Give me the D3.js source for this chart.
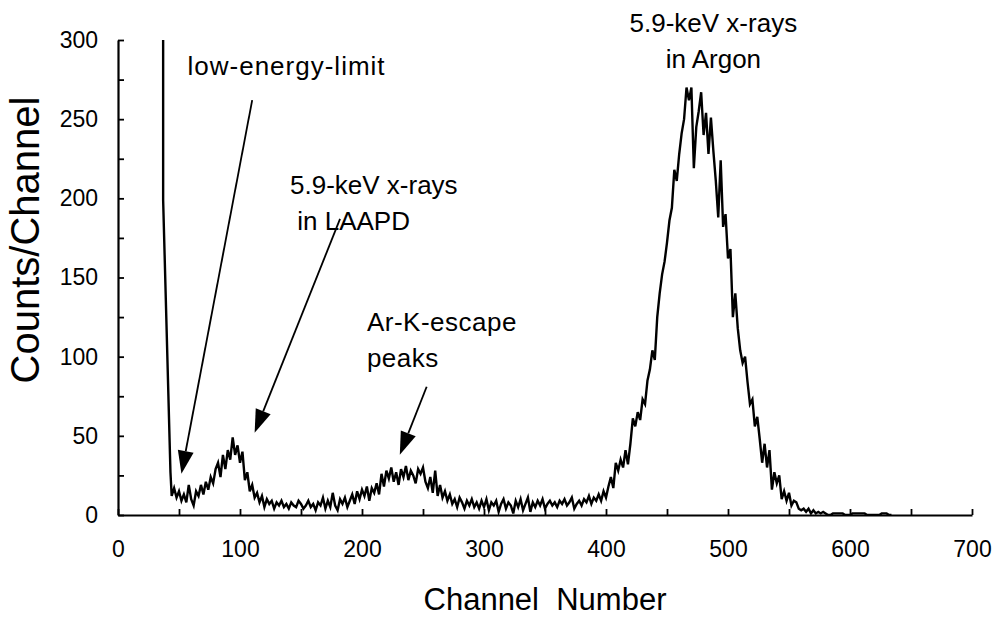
<!DOCTYPE html>
<html>
<head>
<meta charset="utf-8">
<script src="https://cdn.jsdelivr.net/npm/d3@7"></script>
<style>
  body { margin: 0; background: #fff; }
  text { font-family: "Liberation Sans", Arial, sans-serif; fill: #000; }
</style>
</head>
<body>
<div id="chart"></div>
<script>
// low-energy edge of the spectrum (channel, counts)
const edgeChannels = [37, 37, 43];
const edgeCounts = [300, 199, 27];

// counts read every 2nd channel, starting at channel 44
const firstChannel = 44;
const channelStep = 2;
const counts = [
  12, 17, 11, 15, 9, 13, 8, 19, 10, 6, 15,
  12, 19, 13, 21, 16, 24, 20, 29,
  33, 24, 38, 29, 41, 35, 49, 38, 44, 33, 40,
  22, 27, 15, 19, 11, 14, 8, 12, 5, 10, 7,
  9, 4, 8, 6, 9, 5, 7, 4, 8, 6, 5, 9, 7, 4, 6, 9, 5, 7, 3, 8, 6, 11, 4, 9, 5, 14, 6, 3, 10, 7, 11, 5, 9,
  13, 7, 15, 10, 16, 12, 18, 9, 17, 14, 20, 13,
  26, 18, 28, 23, 30, 21, 27, 19, 29, 24, 31, 22, 28, 25, 20, 29, 26, 30, 21,
  17, 24, 14, 28, 12, 19,
  11, 15, 9, 13, 7, 10, 5, 11, 8, 4, 9, 6, 10, 5, 8, 4,
  9, 5, 10, 3, 8, 6, 9, 2, 7, 10, 4, 8, 6, 1, 9, 5, 10, 3, 7, 11, 2, 8, 5, 9, 6,
  10, 4, 7, 9, 6, 8, 5, 9, 7, 10, 6, 8, 11, 4, 7, 9, 6, 10, 8, 12, 7, 11, 9, 13,
  9, 15, 11, 18, 24, 17, 33, 28, 35, 30, 41, 32, 45, 61, 56, 65, 60, 73, 70, 85,
  92, 104, 98, 125, 140, 152, 160, 172, 186, 194, 218, 211, 228, 241, 250, 270, 262, 270, 219, 245,
  255, 267, 240, 254, 228, 251, 230, 211, 188, 224,
  182, 190, 162, 168, 125, 140, 118, 104, 96, 100, 84, 70, 73, 56, 62, 48, 33, 45, 30, 41,
  16, 27, 20, 25, 10, 15, 9, 14, 6, 9, 8, 4, 3, 4, 2, 4, 1, 3, 1, 2, 1, 2, 1,
  0, 0, 1, 1, 1, 1, 1, 0, 0, 0, 1, 1, 1, 1, 1, 1, 0, 0, 0, 0, 0, 0, 1, 1, 1, 0, 0
];

const xTicks = [0, 50, 100, 150, 200, 250, 300, 350, 400, 450, 500, 550, 600, 650, 700];
const yTicks = [0, 25, 50, 75, 100, 125, 150, 175, 200, 225, 250, 275, 300];

// annotations: text lines and arrow (from -> tip in data units)
const notes = [
  { lines: ["low-energy-limit"], ch: 57, cnt: 278, anchor: "start", spacing: 1, from: [110, 262], to: [52, 26] },
  { lines: ["5.9-keV x-rays", " in LAAPD"], ch: 141, cnt: 203, anchor: "start", spacing: 0, from: [182, 187], to: [112, 52] },
  { lines: ["Ar-K-escape", "peaks"], ch: 204, cnt: 116, anchor: "start", spacing: 0.5, from: [253, 81], to: [231, 38] },
  { lines: ["5.9-keV x-rays", "in Argon"], ch: 488, cnt: 305, anchor: "middle", spacing: 0, from: null, to: null }
];

const width = 998, height = 619;
const margin = { top: 40, right: 26, bottom: 104, left: 118 };

const svg = d3.select("#chart").append("svg")
  .attr("width", width)
  .attr("height", height);

const x = d3.scaleLinear().domain([0, 700]).range([margin.left, width - margin.right]);
const y = d3.scaleLinear().domain([0, 300]).range([height - margin.bottom, margin.top]);

const points = edgeChannels.map((c, i) => [c, edgeCounts[i]])
  .concat(counts.map((v, i) => [firstChannel + i * channelStep, v]));

svg.append("defs").append("clipPath").attr("id", "plot")
  .append("rect")
  .attr("x", x(0)).attr("y", y(300))
  .attr("width", x(700) - x(0)).attr("height", y(0) - y(300));

// spectrum
svg.append("path")
  .datum(points)
  .attr("clip-path", "url(#plot)")
  .attr("fill", "none")
  .attr("stroke", "#000")
  .attr("stroke-width", 2.4)
  .attr("stroke-linejoin", "miter")
  .attr("d", d3.line().x(d => x(d[0])).y(d => y(d[1])));

// axes
const xAxis = svg.append("g")
  .attr("transform", `translate(0,${y(0)})`)
  .call(d3.axisBottom(x).tickValues(xTicks).tickSize(-6).tickSizeOuter(0).tickPadding(26)
    .tickFormat(d => d % 100 === 0 ? d : ""));
const yAxis = svg.append("g")
  .attr("transform", `translate(${x(0)},0)`)
  .call(d3.axisLeft(y).tickValues(yTicks).tickSize(-6).tickSizeOuter(0).tickPadding(20)
    .tickFormat(d => d % 50 === 0 ? d : ""));

[xAxis, yAxis].forEach(g => {
  g.select(".domain").attr("stroke", "#000").attr("stroke-width", 2.2);
  g.selectAll(".tick line").attr("stroke", "#000").attr("stroke-width", 1.8);
  g.selectAll(".tick text").attr("font-size", 23).attr("font-family", "Liberation Sans, Arial, sans-serif");
});

// axis titles
svg.append("text")
  .attr("x", 545).attr("y", 610)
  .attr("text-anchor", "middle")
  .attr("font-size", 31)
  .style("white-space", "pre")
  .text("Channel  Number");

svg.append("text")
  .attr("transform", "translate(39,240) rotate(-90)")
  .attr("text-anchor", "middle")
  .attr("font-size", 40)
  .text("Counts/Channel");

// annotations
const lineGap = 36;
notes.forEach(n => {
  const t = svg.append("text")
    .attr("font-size", 26)
    .attr("letter-spacing", n.spacing)
    .attr("text-anchor", n.anchor)
    .style("white-space", "pre");
  n.lines.forEach((s, i) => {
    t.append("tspan")
      .attr("x", x(n.ch))
      .attr("y", y(n.cnt) + i * lineGap)
      .text(s);
  });
  if (n.from) {
    const x0 = x(n.from[0]), y0 = y(n.from[1]);
    const x1 = x(n.to[0]), y1 = y(n.to[1]);
    const ang = Math.atan2(y1 - y0, x1 - x0);
    const len = 23, half = 8;
    const bx = x1 - len * Math.cos(ang), by = y1 - len * Math.sin(ang);
    svg.append("line")
      .attr("x1", x0).attr("y1", y0).attr("x2", bx).attr("y2", by)
      .attr("stroke", "#000").attr("stroke-width", 1.8);
    svg.append("path")
      .attr("fill", "#000")
      .attr("d", `M${x1},${y1}L${bx + half * Math.sin(ang)},${by - half * Math.cos(ang)}` +
        `L${bx - half * Math.sin(ang)},${by + half * Math.cos(ang)}Z`);
  }
});
</script>
</body>
</html>
